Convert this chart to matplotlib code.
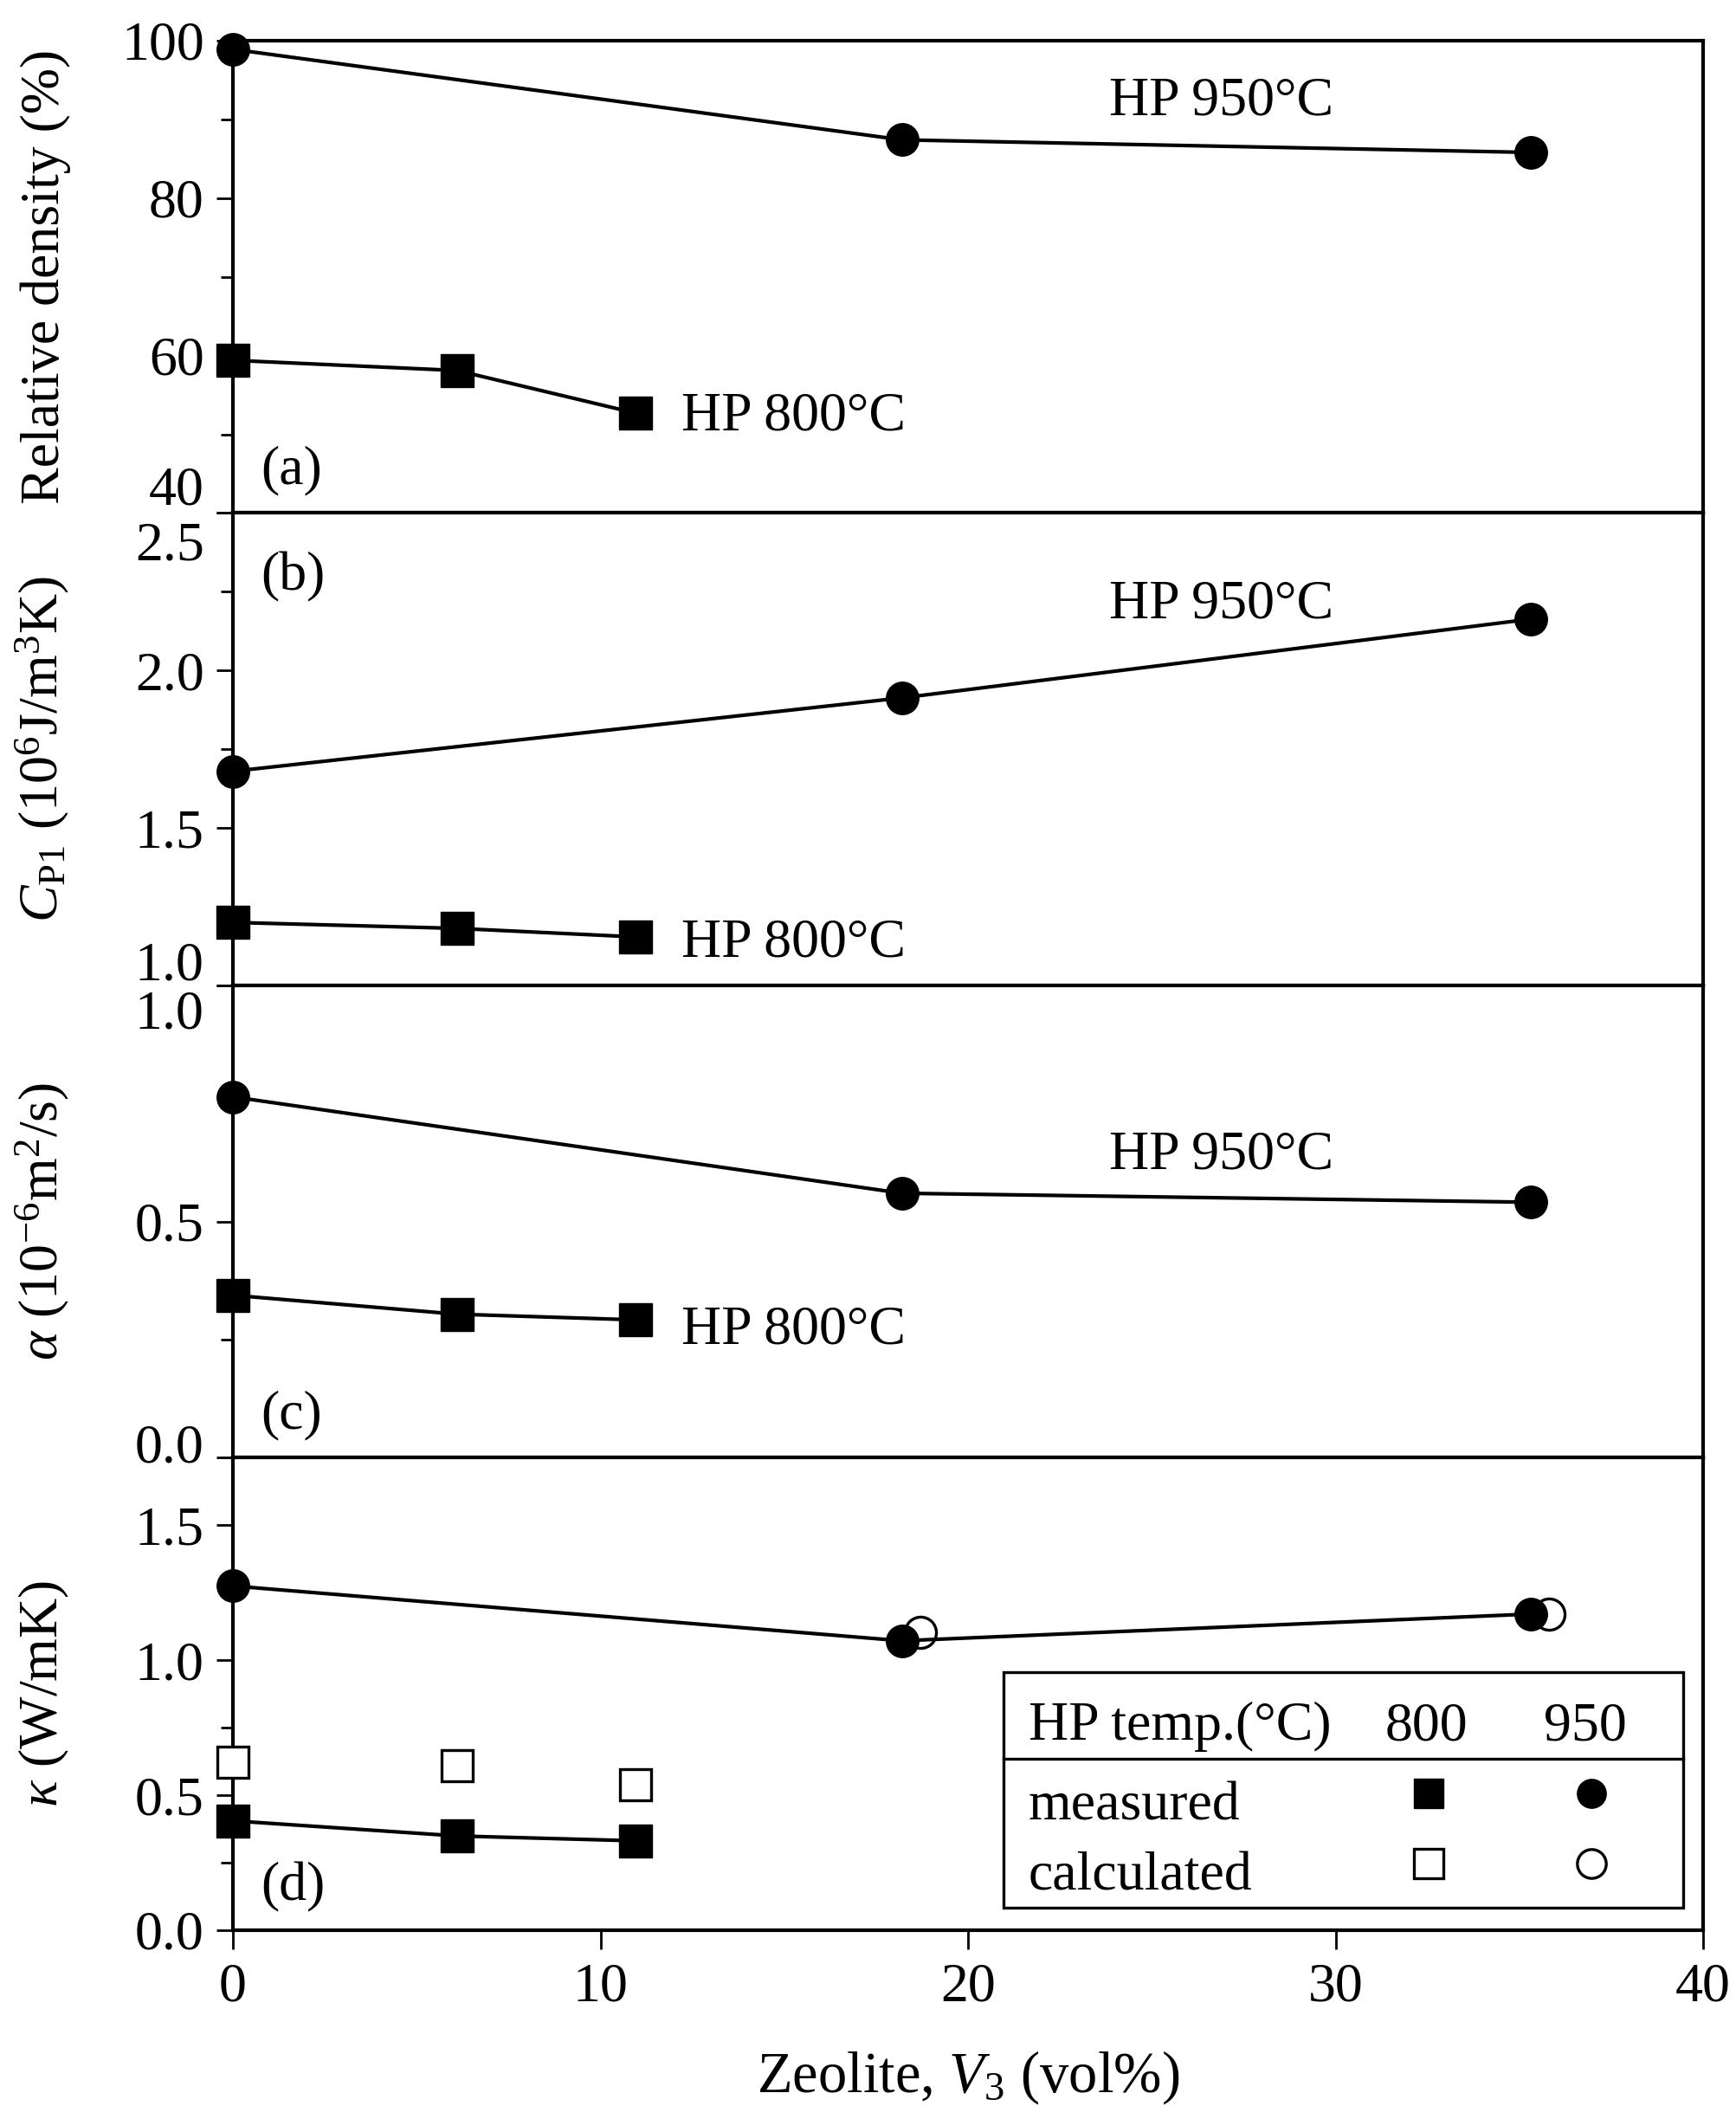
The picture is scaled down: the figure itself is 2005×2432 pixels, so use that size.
import numpy as np
import matplotlib.pyplot as plt
from matplotlib.ticker import MultipleLocator
from matplotlib.transforms import ScaledTranslation
from matplotlib.patches import Rectangle

plt.rcParams['font.family'] = ['Liberation Serif', 'DejaVu Serif']
plt.rcParams['font.size'] = 46
plt.rcParams['mathtext.fontset'] = 'custom'
plt.rcParams['mathtext.rm'] = 'Liberation Serif'
plt.rcParams['mathtext.it'] = 'Liberation Serif:italic'
plt.rcParams['mathtext.bf'] = 'Liberation Serif:bold'

# zeolite content (vol%)
x950 = [0, 18.2, 35.3]
x800 = [0, 6.1, 10.95]
x950_calc = [18.7, 35.8]

# (a) relative density (%)
density_950 = [98.9, 87.4, 85.8]
density_800 = [59.4, 58.1, 52.7]
# (b) heat capacity (10^6 J/m3K)
cp_950 = [1.680, 1.913, 2.163]
cp_800 = [1.200, 1.181, 1.154]
# (c) thermal diffusivity (10^-6 m2/s)
alpha_950 = [0.764, 0.560, 0.541]
alpha_800 = [0.344, 0.304, 0.292]
# (d) thermal conductivity (W/mK)
kappa_950 = [1.275, 1.072, 1.171]
kappa_800 = [0.405, 0.349, 0.331]
kappa_950_calc = [1.104, 1.171]
kappa_800_calc = [0.621, 0.608, 0.540]

ylabels = ["Relative density (%)",
           r"$C_{\rm P1}$ (10$^6$J/m$^3$K)",
           r"$\alpha$ (10$^{-6}$m$^2$/s)",
           r"$\kappa$ (W/mK)"]
panel_tags = ["(a)", "(b)", "(c)", "(d)"]

fig = plt.figure(figsize=(20.06, 24.32), dpi=100)
axes = fig.subplots(4, 1, sharex=True, gridspec_kw=dict(hspace=0))
fig.subplots_adjust(left=0.1341, right=0.9806, top=0.9807, bottom=0.0835)

limits = [(40, 100), (1.0, 2.5), (0.0, 1.0), (0.0, 1.75)]
majors = [20, 0.5, 0.5, 0.5]
minors = [10, 0.25, 0.25, 0.25]
fmts = ["{:.0f}", "{:.1f}", "{:.1f}", "{:.1f}"]

for i, ax in enumerate(axes):
    for sp in ax.spines.values():
        sp.set_linewidth(3.0)
    ax.set_xlim(0, 40)
    ax.set_ylim(*limits[i])
    ax.xaxis.set_major_locator(MultipleLocator(10))
    ax.yaxis.set_major_locator(MultipleLocator(majors[i]))
    ax.yaxis.set_minor_locator(MultipleLocator(minors[i]))
    ax.tick_params(axis='y', which='major', direction='out', length=14, width=2.0, pad=10)
    ax.tick_params(axis='y', which='minor', direction='out', length=10, width=2.0)
    ax.tick_params(axis='x', which='major', direction='out', length=16, width=2.0, pad=11)
    ax.yaxis.set_major_formatter(lambda v, pos, f=fmts[i]: f.format(v))
    ax.set_ylabel(ylabels[i])
    ax.yaxis.set_label_coords(-0.11, 0.5)
    ax.text(0.019, 0.865 if i == 1 else 0.09, panel_tags[i], transform=ax.transAxes,
            ha='left', va='center')

# (d) has no label at its top tick
axes[3].set_yticks([0.0, 0.5, 1.0, 1.5])

series = [(density_950, density_800), (cp_950, cp_800), (alpha_950, alpha_800), (kappa_950, kappa_800)]
for ax, (y950, y800) in zip(axes, series):
    ax.plot(x950, y950, '-o', color='k', ms=27, lw=3.0, clip_on=False, zorder=4)
    ax.plot(x800, y800, '-s', color='k', ms=27, lw=3.0, clip_on=False, zorder=4)

axes[3].plot(x950_calc, kappa_950_calc, 'o', ms=26, mfc='white', mec='k', mew=2.4,
             clip_on=False, zorder=3)
axes[3].plot(x800, kappa_800_calc, 's', ms=26, mfc='white', mec='k', mew=2.4,
             clip_on=False, zorder=3)

# curve labels
lab950 = [90.6, 2.168, 0.6115]
lab800 = [50.6, 1.093, 0.241]
for ax, y1, y2 in zip(axes[:3], lab950, lab800):
    ax.text(26.9, y1, "HP 950°C", ha='center', va='baseline')
    ax.text(12.2, y2, "HP 800°C", ha='left', va='baseline')

axes[3].set_xlabel("Zeolite, $V_3$ (vol%)", fontsize=48, labelpad=30)

# legend table drawn in (d)
ax = axes[3]
ax.add_patch(Rectangle((0.524, 0.048), 0.4626, 0.4985, transform=ax.transAxes,
                       fill=False, lw=2.4, ec='k', zorder=5))
ax.plot([0.524, 0.9866], [0.362, 0.362], color='k', lw=2.4, transform=ax.transAxes, zorder=5)
ax.text(0.541, 0.4026, "HP temp.(°C)", transform=ax.transAxes, va='baseline', ha='left')
ax.text(0.8115, 0.4026, "800", transform=ax.transAxes, va='baseline', ha='center')
ax.text(0.920, 0.4026, "950", transform=ax.transAxes, va='baseline', ha='center')
ax.text(0.541, 0.2335, "measured", transform=ax.transAxes, va='baseline', ha='left')
ax.text(0.541, 0.0853, "calculated", transform=ax.transAxes, va='baseline', ha='left')
ax.plot([0.8133], [0.2886], 's', color='k', ms=24, transform=ax.transAxes)
ax.plot([0.924], [0.2886], 'o', color='k', ms=24, transform=ax.transAxes)
ax.plot([0.8133], [0.1415], 's', mfc='white', mec='k', mew=2.4, ms=24, transform=ax.transAxes)
ax.plot([0.924], [0.1415], 'o', mfc='white', mec='k', mew=2.4, ms=24, transform=ax.transAxes)

# nudge end tick labels off the panel boundaries (pixels, + is up)
fig.canvas.draw()
nudges = {0: {40: 32}, 1: {2.5: -32, 1.0: 28}, 2: {1.0: -28, 0.0: 17}}
for i, d in nudges.items():
    for lab in axes[i].get_yticklabels():
        v = lab.get_position()[1]
        for key, dy in d.items():
            if abs(v - key) < 1e-6:
                lab.set_transform(lab.get_transform() +
                                  ScaledTranslation(0, dy / 100, fig.dpi_scale_trans))

fig.savefig("out.png", dpi=100)
